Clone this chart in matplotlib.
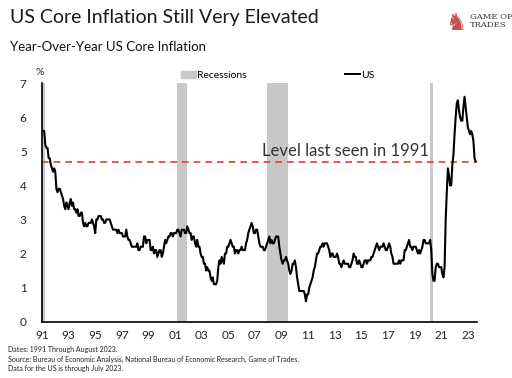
import numpy as np
import matplotlib.pyplot as plt
from matplotlib.patches import Patch
from matplotlib.lines import Line2D

plt.rcParams['font.family'] = ['Lato', 'DejaVu Sans']

# monthly US core inflation, YoY %, Jan 1991 - Jul 2023
us_core = [
    5.6, 5.6, 5.2, 5.1, 5.1, 4.8, 4.8, 4.6, 4.5, 4.4, 4.5, 4.4,  # 1991
    3.9, 3.8, 3.9, 3.9, 3.8, 3.7, 3.6, 3.4, 3.3, 3.5, 3.4, 3.3,  # 1992
    3.5, 3.6, 3.4, 3.5, 3.3, 3.3, 3.2, 3.3, 3.1, 3.1, 3.2, 3.2,  # 1993
    2.9, 2.8, 2.9, 2.8, 2.8, 2.9, 2.9, 2.9, 3.0, 2.9, 2.8, 2.6,  # 1994
    3.0, 3.0, 3.1, 3.1, 3.1, 3.0, 3.0, 2.9, 2.9, 3.0, 3.0, 3.0,  # 1995
    3.0, 2.9, 2.8, 2.7, 2.7, 2.7, 2.7, 2.6, 2.7, 2.6, 2.6, 2.6,  # 1996
    2.5, 2.5, 2.5, 2.7, 2.5, 2.4, 2.4, 2.3, 2.2, 2.2, 2.2, 2.2,  # 1997
    2.2, 2.3, 2.1, 2.1, 2.2, 2.2, 2.2, 2.5, 2.5, 2.3, 2.4, 2.4,  # 1998
    2.4, 2.1, 2.1, 2.2, 2.0, 2.1, 2.1, 1.9, 2.0, 2.1, 2.1, 1.9,  # 1999
    2.0, 2.2, 2.4, 2.3, 2.4, 2.5, 2.5, 2.6, 2.6, 2.5, 2.6, 2.6,  # 2000
    2.6, 2.7, 2.7, 2.6, 2.5, 2.7, 2.7, 2.7, 2.6, 2.6, 2.8, 2.7,  # 2001
    2.6, 2.6, 2.4, 2.5, 2.5, 2.3, 2.2, 2.4, 2.2, 2.2, 2.0, 1.9,  # 2002
    1.9, 1.7, 1.7, 1.5, 1.6, 1.5, 1.5, 1.3, 1.2, 1.3, 1.1, 1.1,  # 2003
    1.1, 1.2, 1.6, 1.8, 1.7, 1.9, 1.8, 1.7, 2.0, 2.0, 2.2, 2.2,  # 2004
    2.3, 2.4, 2.3, 2.2, 2.2, 2.0, 2.1, 2.1, 2.0, 2.1, 2.1, 2.2,  # 2005
    2.1, 2.1, 2.1, 2.3, 2.4, 2.6, 2.7, 2.8, 2.9, 2.8, 2.6, 2.6,  # 2006
    2.7, 2.7, 2.5, 2.3, 2.2, 2.2, 2.2, 2.1, 2.1, 2.2, 2.3, 2.4,  # 2007
    2.5, 2.3, 2.4, 2.3, 2.3, 2.4, 2.5, 2.5, 2.5, 2.2, 2.0, 1.8,  # 2008
    1.7, 1.8, 1.8, 1.9, 1.8, 1.7, 1.5, 1.4, 1.5, 1.7, 1.7, 1.8,  # 2009
    1.6, 1.3, 1.1, 0.9, 0.9, 0.9, 0.9, 0.9, 0.8, 0.6, 0.8, 0.8,  # 2010
    1.0, 1.1, 1.2, 1.3, 1.5, 1.6, 1.8, 2.0, 2.0, 2.1, 2.2, 2.2,  # 2011
    2.3, 2.2, 2.3, 2.3, 2.3, 2.2, 2.1, 1.9, 2.0, 2.0, 1.9, 1.9,  # 2012
    1.9, 2.0, 1.9, 1.7, 1.7, 1.6, 1.7, 1.8, 1.7, 1.7, 1.7, 1.7,  # 2013
    1.6, 1.6, 1.7, 1.8, 2.0, 1.9, 1.9, 1.7, 1.7, 1.8, 1.7, 1.6,  # 2014
    1.6, 1.7, 1.8, 1.8, 1.7, 1.8, 1.8, 1.8, 1.9, 1.9, 2.0, 2.1,  # 2015
    2.2, 2.3, 2.2, 2.1, 2.2, 2.2, 2.2, 2.3, 2.2, 2.1, 2.1, 2.2,  # 2016
    2.3, 2.2, 2.0, 1.9, 1.7, 1.7, 1.7, 1.7, 1.7, 1.8, 1.7, 1.8,  # 2017
    1.8, 1.8, 2.1, 2.1, 2.2, 2.3, 2.4, 2.2, 2.2, 2.1, 2.2, 2.2,  # 2018
    2.2, 2.1, 2.0, 2.1, 2.0, 2.1, 2.2, 2.4, 2.4, 2.3, 2.3, 2.3,  # 2019
    2.3, 2.4, 2.1, 1.4, 1.2, 1.2, 1.6, 1.7, 1.7, 1.6, 1.6, 1.6,  # 2020
    1.4, 1.3, 1.6, 3.0, 3.8, 4.5, 4.3, 4.0, 4.0, 4.6, 4.9, 5.5,  # 2021
    6.0, 6.4, 6.5, 6.2, 6.0, 5.9, 5.9, 6.3, 6.6, 6.3, 6.0, 5.7,  # 2022
    5.6, 5.5, 5.6, 5.5, 5.3, 4.8, 4.7,                           # 2023
]
dates = 1991 + (np.arange(len(us_core)) + 1) / 12.0

recession_start = [1990.6, 2001.17, 2007.92, 2020.12]
recession_end = [1991.2, 2001.9, 2009.5, 2020.37]
level_1991 = 4.7

tick_years = list(range(1991, 2024, 2))
tick_labels = ['%02d' % (y % 100) for y in tick_years]

fig = plt.figure(figsize=(5.12, 3.78), dpi=100)
ax = fig.add_axes([0.082, 0.149, 0.85, 0.631])

for s, e in zip(recession_start, recession_end):
    ax.axvspan(s, e, color='#c8c8c8', lw=0, zorder=0)

ax.axhline(level_1991, color='#e0402f', ls=(0, (4, 3)), lw=1.2, zorder=1)
ax.plot(dates, us_core, color='black', lw=1.5, zorder=2)
ax.text(2007.5, level_1991 + 0.06, 'Level last seen in 1991', fontsize=12,
        color='#333333', va='bottom', ha='left')

ax.set_xlim(1991, 2023.7)
ax.set_ylim(0, 7)
ax.set_xticks(tick_years)
ax.set_xticklabels(tick_labels)
ax.set_yticks(range(0, 8))
ax.tick_params(length=0, labelsize=8.5, colors='#222222', pad=6)
ax.tick_params(axis='y', pad=11)
for sp in ['top', 'right']:
    ax.spines[sp].set_visible(False)
ax.spines['left'].set_linewidth(1.2)
ax.spines['bottom'].set_linewidth(1.2)

handles = [Patch(color='#c8c8c8', label='Recessions'),
           Line2D([], [], color='black', lw=1.4, label='US')]
ax.legend(handles=handles, ncol=2, frameon=False, loc='center left',
          bbox_to_anchor=(0.31, 1.033), fontsize=7.5, handlelength=1.4,
          handletextpad=0.1, columnspacing=9.5, borderaxespad=0)

fig.text(0.078, 0.808, '%', fontsize=7.5, ha='center', va='center', color='#222222')
fig.text(0.02, 0.955, 'US Core Inflation Still Very Elevated', fontsize=14,
         ha='left', va='center', color='#1a1a1a')
fig.text(0.02, 0.875, 'Year-Over-Year US Core Inflation', fontsize=9.5,
         ha='left', va='center', color='#111111')
fig.text(0.918, 0.945, 'GAME OF\nTRADES', fontsize=6, family='DejaVu Serif',
         ha='left', va='center', color='#333333', linespacing=1.0)
fig.text(0.89, 0.94, '\u265e', fontsize=17, family='DejaVu Sans',
         ha='center', va='center', color='#c9504a')

footer = ('Dates: 1991 Through August 2023.\n'
          'Source: Bureau of Economic Analysis, National Bureau of Economic Research, Game of Trades.\n'
          'Data for the US is through July 2023.')
fig.text(0.015, 0.085, footer, fontsize=5, ha='left', va='top', color='#222222',
         linespacing=1.45)

fig.savefig('out.png', dpi=100)
